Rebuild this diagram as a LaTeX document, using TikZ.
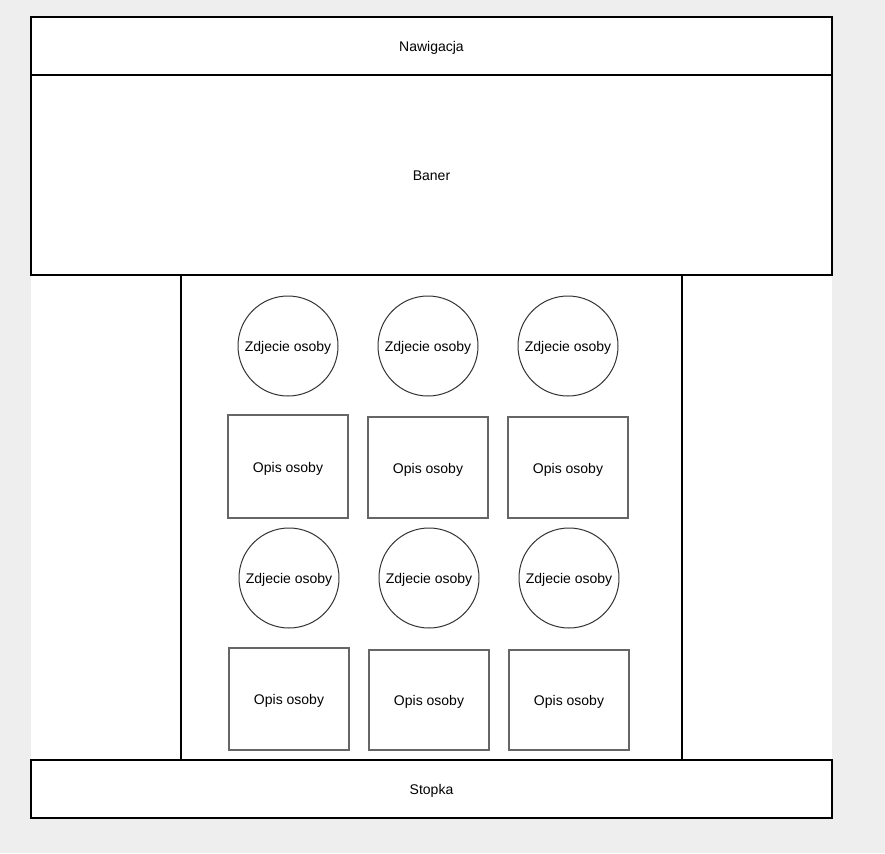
\documentclass[tikz,border=0pt]{standalone}
\usepackage{fontspec}
\setmainfont{Liberation Sans}
\definecolor{bgc}{HTML}{EEEEEE}
\definecolor{rimc}{HTML}{666666}
\definecolor{circc}{HTML}{333333}
\begin{document}
\begin{tikzpicture}[x=1pt,y=-1pt,
  lbl/.style={font=\fontsize{14}{16}\selectfont,text height=11pt,text depth=0pt},
  frame/.style={draw=black,line width=1.2pt,fill=white},
  photo/.style={circle,draw=circc,line width=1pt,minimum size=100pt,inner sep=0pt,lbl},
  desc/.style={rectangle,draw=rimc,line width=1.3pt,inner sep=0pt,lbl}]
\fill[bgc] (0,0) rectangle (885,853);
\useasboundingbox (0,0) rectangle (885,853);
\fill[white] (31,17) rectangle (832,818);
\node[frame,rectangle,minimum width=801pt,minimum height=58pt,inner sep=0pt,lbl] (nav) at (431.5,46) {Nawigacja};
\node[frame,rectangle,minimum width=801pt,minimum height=200pt,inner sep=0pt,lbl] (ban) at (431.5,175) {Baner};
\node[frame,rectangle,minimum width=501pt,minimum height=485pt,inner sep=0pt] (main) at (431.5,517.5) {};
\node[frame,rectangle,minimum width=801pt,minimum height=58pt,inner sep=0pt,lbl] (foot) at (431.5,789) {Stopka};
\node[photo] (p1) at (288,346) {Zdjecie osoby};
\node[photo] (p2) at (428,346) {Zdjecie osoby};
\node[photo] (p3) at (568,346) {Zdjecie osoby};
\node[photo] (p4) at (289,578) {Zdjecie osoby};
\node[photo] (p5) at (429,578) {Zdjecie osoby};
\node[photo] (p6) at (569,578) {Zdjecie osoby};
\node[desc,minimum width=120pt,minimum height=103pt] (d1) at (288,466.5) {Opis osoby};
\node[desc,minimum width=120pt,minimum height=101pt] (d2) at (428,467.5) {Opis osoby};
\node[desc,minimum width=120pt,minimum height=101pt] (d3) at (568,467.5) {Opis osoby};
\node[desc,minimum width=120pt,minimum height=102pt] (d4) at (289,699) {Opis osoby};
\node[desc,minimum width=120pt,minimum height=100pt] (d5) at (429,700) {Opis osoby};
\node[desc,minimum width=120pt,minimum height=100pt] (d6) at (569,700) {Opis osoby};
\end{tikzpicture}
\end{document}
